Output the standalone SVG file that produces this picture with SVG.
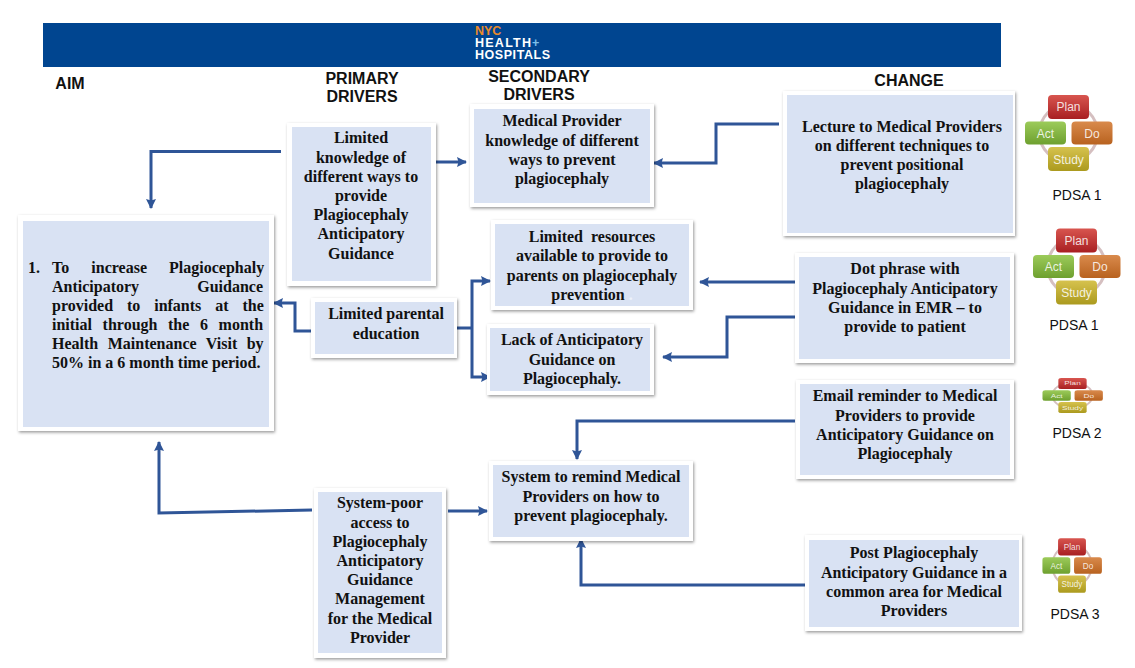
<svg xmlns="http://www.w3.org/2000/svg" width="1135" height="668" viewBox="0 0 1135 668">
<style>
.b{fill:#fff;filter:url(#sh)}
.i{fill:#d9e2f3}
.t{font:bold 16px "Liberation Serif",serif;fill:#111;text-anchor:middle;transform:translateY(1px)}
.a{font:bold 16px "Liberation Serif",serif;fill:#111;transform:translateY(1px)}
.h{font:bold 16px "Liberation Sans",sans-serif;fill:#111;text-anchor:middle}
.c{fill:none;stroke:#2f5597;stroke-width:3;marker-end:url(#ah)}
.n{fill:none;stroke:#2f5597;stroke-width:3}
.p{font:14px "Liberation Sans",sans-serif;fill:#111;text-anchor:middle}
.l{font:bold 12.500px "Liberation Sans",sans-serif;text-anchor:start}
.q{font:12px "Liberation Sans",sans-serif;fill:#fff;fill-opacity:.85;text-anchor:middle}
</style>
<defs>
<filter id="sh" x="-10%" y="-10%" width="120%" height="120%"><feDropShadow dx="1" dy="1.5" stdDeviation="1.5" flood-color="#000" flood-opacity=".4"/></filter>
<marker id="ah" markerUnits="userSpaceOnUse" markerWidth="12" markerHeight="12" refX="9" refY="5.5" orient="auto"><path d="M0 .5L10 5.5L0 10.5L1.5 5.5Z" fill="#2f5597"/></marker>
<linearGradient id="gr" x1="0" y1="0" x2="0" y2="1"><stop offset="0" stop-color="#d8554f"/><stop offset="1" stop-color="#a81f22"/></linearGradient>
<linearGradient id="go" x1="0" y1="0" x2="0" y2="1"><stop offset="0" stop-color="#d98a4c"/><stop offset="1" stop-color="#b8621f"/></linearGradient>
<linearGradient id="gg" x1="0" y1="0" x2="0" y2="1"><stop offset="0" stop-color="#9ccb5a"/><stop offset="1" stop-color="#6ea02f"/></linearGradient>
<linearGradient id="gy" x1="0" y1="0" x2="0" y2="1"><stop offset="0" stop-color="#d6c24e"/><stop offset="1" stop-color="#ab9a1e"/></linearGradient>
<g id="pdsa">
<circle cx="0" cy="0" r="29" fill="none" stroke="#d5bfc0" stroke-width="3"/>
<rect x="-20.500" y="-38" width="41" height="24" rx="4" fill="url(#gr)"/>
<rect x="-43.500" y="-11.500" width="41" height="23" rx="4" fill="url(#gg)"/>
<rect x="3" y="-11.500" width="41" height="23" rx="4" fill="url(#go)"/>
<rect x="-20.500" y="14" width="41" height="24" rx="4" fill="url(#gy)"/>
<text class="q" y="-22">Plan</text><text class="q" x="-23" y="4.500">Act</text><text class="q" x="23.500" y="4.500">Do</text><text class="q" y="30.500">Study</text>
</g>
</defs>
<rect width="1135" height="668" fill="#fff"/>
<g id="banner">
<rect x="43" y="23" width="958" height="44" fill="#004590"/>
<text class="l" x="475" y="35" fill="#e98a2b">NYC</text>
<text class="l" x="475" y="47" fill="#fff" textLength="56">HEALTH</text>
<text class="l" x="532" y="47" fill="#7cc0ea">+</text>
<text class="l" x="475" y="59" fill="#fff" textLength="75">HOSPITALS</text>
</g>
<g id="headers">
<text class="h" x="70" y="89">AIM</text>
<text class="h" x="362" y="84">PRIMARY</text><text class="h" x="362" y="102">DRIVERS</text>
<text class="h" x="539" y="82">SECONDARY</text><text class="h" x="539" y="100">DRIVERS</text>
<text class="h" x="909" y="86">CHANGE</text>
</g>
<g id="connectors">
<path class="c" d="M281 151.500H151V208"/>
<path class="c" d="M433 162H466"/>
<path class="c" d="M779 124H716V163H654"/>
<path class="c" d="M312 331H295V303H274"/>
<path class="n" d="M456 328H472"/>
<path class="c" d="M472 328V281H490"/>
<path class="c" d="M472 328V377H490"/>
<path class="c" d="M795 282H700"/>
<path class="c" d="M795 317H727V357H663"/>
<path class="c" d="M795 421H577V459"/>
<path class="c" d="M312 510L159 513V442"/>
<path class="c" d="M448 511H487"/>
<path class="c" d="M806 585H581V539"/>
</g>
<g id="aim"><rect class="b" x="18" y="215" width="256" height="216"/><rect class="i" x="23" y="221" width="246" height="206"/>
<text class="a" x="28" y="272">1.</text>
<text class="a" x="52" y="272" word-spacing="18.100">To increase Plagiocephaly</text>
<text class="a" x="52" y="291" word-spacing="54.100">Anticipatory Guidance</text>
<text class="a" x="52" y="310" word-spacing="9.900">provided to infants at the</text>
<text class="a" x="52" y="329" word-spacing="6.600">initial through the 6 month</text>
<text class="a" x="52" y="348" word-spacing="5.500">Health Maintenance Visit by</text>
<text class="a" x="52" y="367">50% in a 6 month time period.</text></g>
<g id="primary1"><rect class="b" x="287" y="123" width="149" height="163"/><rect class="i" x="292" y="127" width="139" height="154"/>
<text class="t"><tspan x="361" y="142">Limited</tspan><tspan x="361" y="162">knowledge of</tspan><tspan x="361" y="181">different ways to</tspan><tspan x="361" y="200">provide</tspan><tspan x="361" y="219">Plagiocephaly</tspan><tspan x="361" y="238">Anticipatory</tspan><tspan x="361" y="258">Guidance</tspan></text></g>
<g id="primary2"><rect class="b" x="311" y="298" width="146" height="60"/><rect class="i" x="315" y="302" width="139" height="52"/>
<text class="t"><tspan x="386" y="318">Limited parental</tspan><tspan x="386" y="338">education</tspan></text></g>
<g id="primary3"><rect class="b" x="314" y="488" width="132" height="170"/><rect class="i" x="318" y="492" width="124" height="161"/>
<text class="t"><tspan x="380" y="507">System-poor</tspan><tspan x="380" y="527">access to</tspan><tspan x="380" y="546">Plagiocephaly</tspan><tspan x="380" y="565">Anticipatory</tspan><tspan x="380" y="584">Guidance</tspan><tspan x="380" y="603">Management</tspan><tspan x="380" y="623">for the Medical</tspan><tspan x="380" y="642">Provider</tspan></text></g>
<g id="secondary1"><rect class="b" x="470" y="104" width="184" height="103"/><rect class="i" x="474" y="109" width="176" height="94"/>
<text class="t"><tspan x="562" y="125">Medical Provider</tspan><tspan x="562" y="145">knowledge of different</tspan><tspan x="562" y="164">ways to prevent</tspan><tspan x="562" y="183">plagiocephaly</tspan></text></g>
<g id="secondary2"><rect class="b" x="491" y="220" width="202" height="90"/><rect class="i" x="495" y="224" width="194" height="82"/>
<text class="t"><tspan x="592" y="241" xml:space="preserve">Limited  resources</tspan><tspan x="592" y="260">available to provide to</tspan><tspan x="592" y="280">parents on plagiocephaly</tspan><tspan x="592" y="299" xml:space="preserve">prevention <tspan fill="#eef2fa">.</tspan></tspan></text></g>
<g id="secondary3"><rect class="b" x="487" y="324" width="167" height="71"/><rect class="i" x="490" y="328" width="160" height="63"/>
<text class="t"><tspan x="572" y="344">Lack of Anticipatory</tspan><tspan x="572" y="364">Guidance on</tspan><tspan x="572" y="383">Plagiocephaly.</tspan></text></g>
<g id="secondary4"><rect class="b" x="489" y="461" width="204" height="80"/><rect class="i" x="493" y="465" width="196" height="72"/>
<text class="t"><tspan x="591" y="481">System to remind Medical</tspan><tspan x="591" y="501">Providers on how to</tspan><tspan x="591" y="520">prevent plagiocephaly.</tspan></text></g>
<g id="change1"><rect class="b" x="783" y="91" width="232" height="145"/><rect class="i" x="787" y="95" width="226" height="138"/>
<text class="t"><tspan x="902" y="131">Lecture to Medical Providers</tspan><tspan x="902" y="150">on different techniques to</tspan><tspan x="902" y="169">prevent positional</tspan><tspan x="902" y="188">plagiocephaly</tspan></text></g>
<g id="change2"><rect class="b" x="795" y="253" width="219" height="110"/><rect class="i" x="799" y="257" width="211" height="102"/>
<text class="t"><tspan x="905" y="273">Dot phrase with</tspan><tspan x="905" y="293">Plagiocephaly Anticipatory</tspan><tspan x="905" y="312">Guidance in EMR – to</tspan><tspan x="905" y="331">provide to patient</tspan></text></g>
<g id="change3"><rect class="b" x="796" y="380" width="218" height="99"/><rect class="i" x="800" y="384" width="210" height="91"/>
<text class="t"><tspan x="905" y="400">Email reminder to Medical</tspan><tspan x="905" y="420">Providers to provide</tspan><tspan x="905" y="439">Anticipatory Guidance on</tspan><tspan x="905" y="458">Plagiocephaly</tspan></text></g>
<g id="change4"><rect class="b" x="805" y="535" width="217" height="96"/><rect class="i" x="809" y="540" width="210" height="87"/>
<text class="t"><tspan x="914" y="557">Post Plagiocephaly</tspan><tspan x="914" y="577">Anticipatory Guidance in a</tspan><tspan x="914" y="596">common area for Medical</tspan><tspan x="914" y="615">Providers</tspan></text></g>
<g id="pdsa1"><use href="#pdsa" transform="translate(1068.500,133)"/><text class="p" x="1077" y="200">PDSA 1</text></g>
<g id="pdsa2"><use href="#pdsa" transform="translate(1076.500,266.500)"/><text class="p" x="1074" y="330">PDSA 1</text></g>
<g id="pdsa3"><use href="#pdsa" transform="translate(1072.500,395.500) scale(.69,.46)"/><text class="p" x="1077" y="438">PDSA 2</text></g>
<g id="pdsa4"><use href="#pdsa" transform="translate(1072,565.500) scale(.68,.72)"/><text class="p" x="1075" y="619">PDSA 3</text></g>
</svg>
